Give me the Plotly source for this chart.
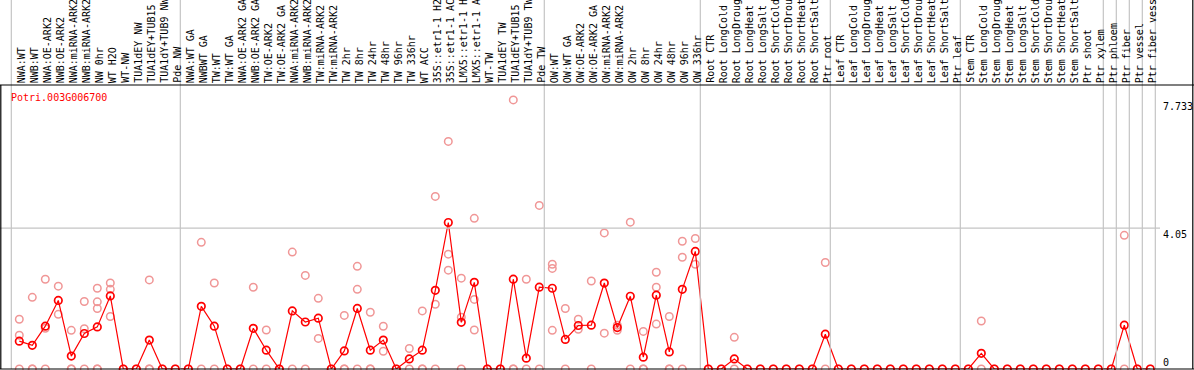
import plotly.graph_objects as go

categories = [
    "NWA:WT", "NWB:WT", "NWA:OE-ARK2", "NWB:OE-ARK2", "NWA:miRNA-ARK2", "NWB:miRNA-ARK2",
    "NW 0hr", "WT H2O", "WT-NW", "TUA1dEY NW", "TUA1dEY+TUB15 NW", "TUA1dY+TUB9 NW", "Pde NW",
    "NWA:WT GA", "NWBWT GA", "TW:WT", "TW:WT GA", "NWA:OE-ARK2 GA", "NWB:OE-ARK2 GA",
    "TW:OE-ARK2", "TW:OE-ARK2 GA", "NWA:miRNA-ARK2", "NWB:miRNA-ARK2", "TW:miRNA-ARK2",
    "TW:miRNA-ARK2", "TW 2hr", "TW 8hr", "TW 24hr", "TW 48hr", "TW 96hr", "TW 336hr", "WT ACC",
    "35S::etr1-1 H2O", "35S::etr1-1 ACC", "LMX5::etr1-1 H2O", "LMX5::etr1-1 ACC", "WT-TW",
    "TUA1dEY TW", "TUA1dEY+TUB15 TW", "TUA1dY+TUB9 TW", "Pde TW",
    "OW:WT", "OW:WT GA", "OW:OE-ARK2", "OW:OE-ARK2 GA", "OW:miRNA-ARK2", "OW:miRNA-ARK2",
    "OW 2hr", "OW 8hr", "OW 24hr", "OW 48hr", "OW 96hr", "OW 336hr",
    "Root CTR", "Root LongCold", "Root LongDrought", "Root LongHeat", "Root LongSalt",
    "Root ShortCold", "Root ShortDrought", "Root ShortHeat", "Root ShortSalt", "Ptr root",
    "Leaf CTR", "Leaf LongCold", "Leaf LongDrought", "Leaf LongHeat", "Leaf LongSalt",
    "Leaf ShortCold", "Leaf ShortDrought", "Leaf ShortHeat", "Leaf ShortSalt", "Ptr leaf",
    "Stem CTR", "Stem LongCold", "Stem LongDrought", "Stem LongHeat", "Stem LongSalt",
    "Stem ShortCold", "Stem ShortDrought", "Stem ShortHeat", "Stem ShortSalt", "Ptr shoot",
    "Ptr xylem", "Ptr phloem", "Ptr fiber", "Ptr vessel", "Ptr fiber vessel",
]

mean_values = [
    0.80, 0.68, 1.23, 1.97, 0.37, 1.02, 1.21, 2.10, 0, 0, 0.83, 0, 0,
    0, 1.80, 1.23, 0, 0, 1.17, 0.54, 0, 1.67, 1.35, 1.46, 0, 0.52, 1.74, 0.54, 0.83,
    0, 0.29, 0.54, 2.26, 4.21, 1.34, 2.49, 0, 0, 2.58, 0.31, 2.35,
    2.32, 0.85, 1.25, 1.26, 2.47, 1.19, 2.09, 0.34, 2.12, 0.49, 2.29, 3.38,
    0, 0, 0.29, 0, 0, 0, 0, 0, 0, 1.00,
    0, 0, 0, 0, 0, 0, 0, 0, 0, 0,
    0, 0.45, 0, 0, 0, 0, 0, 0, 0, 0, 0,
    0, 1.26, 0, 0,
]

replicate_values = [
    [1.43, 0.97, 0], [2.06, 0, 0], [2.58, 1.17, 0], [2.38, 1.57], [1.11, 0, 0],
    [1.94, 1.16, 0], [2.32, 1.93, 1.74, 0, 0], [2.47, 2.29, 1.51], [0], [0],
    [2.56, 0, 0], [0], [0],
    [0], [3.64, 0], [2.47, 0], [0], [0], [2.35, 0], [1.12, 0], [0], [3.36, 0],
    [2.69, 0], [2.03, 0.88], [0], [1.54, 0, 0], [2.95, 2.29, 0], [1.63, 0, 0],
    [1.23, 0.51], [0], [0.59, 0], [1.67, 0, 0], [4.96, 1.86, 0], [6.54, 3.30, 2.84],
    [2.61, 1.49, 0], [4.33, 2.00, 1.12], [0], [0], [7.733, 0, 0], [2.58, 0], [4.70, 0],
    [3.01, 2.89, 1.11], [1.74, 0], [1.43, 1.14], [2.53, 0], [3.91, 1.03], [1.26, 1.11],
    [4.22, 0], [1.08, 0, 0], [2.78, 2.35, 1.29], [1.51, 0, 0], [3.67, 3.21, 0], [3.75, 3.01],
    [0], [0], [0.91, 0], [0], [0], [0], [0], [0], [0], [3.06, 0],
    [0], [0], [0], [0], [0], [0], [0], [0], [0], [0],
    [0], [1.38, 0], [0], [0], [0], [0], [0], [0], [0], [0], [0],
    [0], [3.84, 0], [0], [0],
]

group_starts = [0, 13, 41, 53, 63, 73, 84, 85, 86, 87, 88]
axis_ticks = [7.733, 4.05, 0]
gene_name = "Potri.003G006700"

W, H = 1194, 370
FONT = "DejaVu Sans Mono"

x_idx = list(range(len(categories)))
rep_x, rep_y = [], []
for i, reps in enumerate(replicate_values):
    for v in reps:
        rep_x.append(i)
        rep_y.append(v)

fig = go.Figure()
fig.add_trace(go.Scatter(
    x=rep_x, y=rep_y, mode="markers", cliponaxis=False, showlegend=False, hoverinfo="skip",
    marker=dict(symbol="circle-open", size=7.5, color="rgb(240,150,150)",
                line=dict(width=1.5, color="rgb(240,150,150)")),
))
fig.add_trace(go.Scatter(
    x=x_idx, y=mean_values, mode="lines+markers", cliponaxis=False, showlegend=False,
    hoverinfo="skip",
    line=dict(color="red", width=1.2),
    marker=dict(symbol="circle-open", size=7.5, color="red",
                line=dict(width=1.7, color="red")),
))

px0, step = 19.3, 13.0
xmin = -px0 / step
xmax = (W - px0) / step
y_top_px, y_bot_px = 85, 369
scale = 34.8
ymax = (y_bot_px - y_top_px) / scale

shapes = []
shapes.append(dict(type="line", xref="paper", yref="y", x0=0, x1=1160 / W, y0=4.05, y1=4.05,
                   line=dict(color="#c4c4c4", width=1.2)))
for k in group_starts:
    xv = k - 0.615
    shapes.append(dict(type="line", xref="x", yref="paper", x0=xv, x1=xv,
                       y0=(H - y_bot_px) / H, y1=1, line=dict(color="#c4c4c4", width=1.2)))
blk = dict(color="black", width=1.2)
shapes.append(dict(type="line", xref="paper", yref="paper", x0=0, x1=1,
                   y0=(H - y_top_px) / H, y1=(H - y_top_px) / H, line=blk))
shapes.append(dict(type="line", xref="paper", yref="paper", x0=0, x1=1,
                   y0=(H - y_bot_px) / H, y1=(H - y_bot_px) / H, line=blk))
shapes.append(dict(type="line", xref="paper", yref="paper", x0=0.8 / W, x1=0.8 / W,
                   y0=(H - y_bot_px) / H, y1=(H - y_top_px) / H, line=blk))
shapes.append(dict(type="line", xref="paper", yref="paper", x0=1192.8 / W, x1=1192.8 / W,
                   y0=(H - y_bot_px) / H, y1=1, line=blk))

annotations = []
for i, name in enumerate(categories):
    annotations.append(dict(
        x=i, y=(H - 84) / H, xref="x", yref="paper", text=name, showarrow=False,
        textangle=-90, xanchor="center", yanchor="bottom", borderpad=0, xshift=2,
        font=dict(family=FONT, size=10, color="black"),
    ))
annotations.append(dict(
    x=9 / W, y=(H - 97) / H, xref="paper", yref="paper", text=gene_name, showarrow=False,
    xanchor="left", yanchor="middle", font=dict(family=FONT, size=10, color="red"),
))
for v in axis_ticks:
    annotations.append(dict(
        x=1162 / W, y=v, xref="paper", yref="y", text=str(v), showarrow=False,
        xanchor="left", yanchor="bottom" if v == 0 else "top", borderpad=0,
        font=dict(family=FONT, size=10, color="black"),
    ))

fig.update_layout(
    width=W, height=H, margin=dict(l=0, r=0, t=0, b=0),
    paper_bgcolor="white", plot_bgcolor="white",
    xaxis=dict(range=[xmin, xmax], visible=False, domain=[0, 1]),
    yaxis=dict(range=[0, ymax], visible=False,
               domain=[(H - y_bot_px) / H, (H - y_top_px) / H]),
    shapes=shapes, annotations=annotations, showlegend=False,
)

fig.write_html("out.html", config={"displayModeBar": False},
               post_script="document.body.style.margin='0px';document.body.style.overflow='hidden';")
